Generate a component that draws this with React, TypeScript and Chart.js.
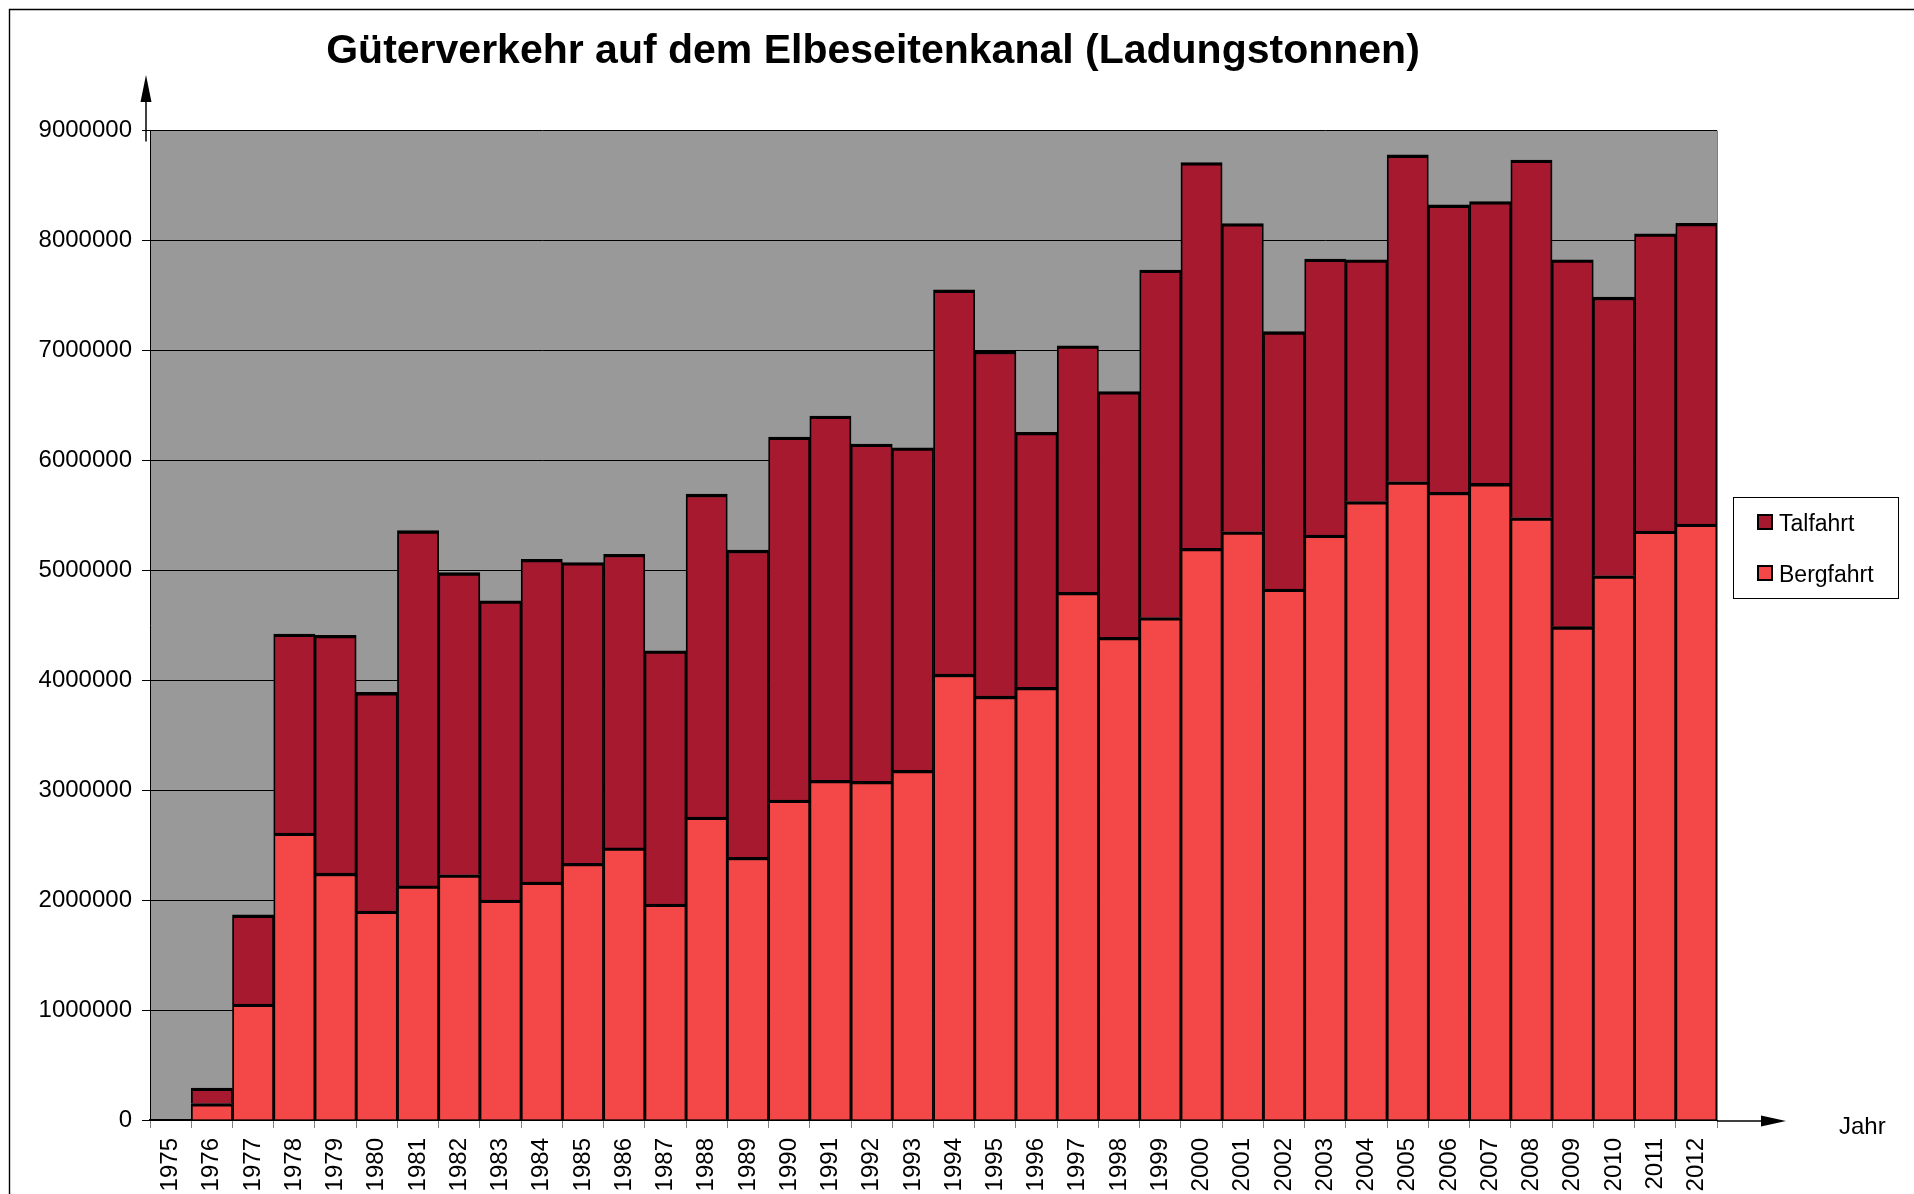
import React, { useEffect, useRef } from 'react';
import { Chart, registerables } from 'chart.js';

Chart.register(...registerables);

const years = [
  '1975', '1976', '1977', '1978', '1979', '1980', '1981', '1982', '1983', '1984',
  '1985', '1986', '1987', '1988', '1989', '1990', '1991', '1992', '1993', '1994',
  '1995', '1996', '1997', '1998', '1999', '2000', '2001', '2002', '2003', '2004',
  '2005', '2006', '2007', '2008', '2009', '2010', '2011', '2012',
];

const bergfahrt = [
  0, 150000, 1055000, 2610000, 2245000, 1900000, 2130000, 2230000, 2000000, 2165000,
  2335000, 2475000, 1965000, 2755000, 2390000, 2910000, 3090000, 3080000, 3180000, 4055000,
  3855000, 3935000, 4800000, 4390000, 4570000, 5200000, 5350000, 4830000, 5320000, 5625000,
  5805000, 5710000, 5790000, 5478000, 4487000, 4950000, 5357000, 5420000,
];

const talfahrt = [
  0, 140000, 810000, 1810000, 2163000, 1989000, 3230000, 2748000, 2722000, 2935000,
  2735000, 2671000, 2303000, 2937000, 2793000, 3302000, 3312000, 3068000, 2934000, 3495000,
  3138000, 2320000, 2241000, 2235000, 3160000, 3509000, 2803000, 2340000, 2511000, 2199000,
  2973000, 2613000, 2563000, 3253000, 3336000, 2534000, 2703000, 2736000,
];

const seriesLabels = ['Bergfahrt', 'Talfahrt'];
const seriesColors = ['#F44747', '#A6192F'];
const titleText = 'Güterverkehr auf dem Elbeseitenkanal (Ladungstonnen)';
const xAxisLabel = 'Jahr';
const yMin = 0;
const yMax = 9000000;
const yStep = 1000000;

const FONT = '"Liberation Sans", Arial, Helvetica, sans-serif';

const backgroundPlugin = {
  id: 'bgPlugin',
  beforeDraw(chart: any) {
    const { ctx, chartArea, width, height } = chart;
    ctx.save();
    ctx.fillStyle = '#ffffff';
    ctx.fillRect(0, 0, width, height);
    ctx.fillStyle = '#999999';
    ctx.fillRect(chartArea.left, chartArea.top, chartArea.right - chartArea.left, chartArea.bottom - chartArea.top);
    ctx.restore();
  },
};

const decorPlugin = {
  id: 'decorPlugin',
  afterDraw(chart: any) {
    const { ctx, chartArea, width, height } = chart;
    ctx.save();

    // outer frame (only top and left visible)
    ctx.strokeStyle = '#000';
    ctx.lineWidth = 1.4;
    ctx.beginPath();
    ctx.moveTo(9.5, height + 10);
    ctx.lineTo(9.5, 9.5);
    ctx.lineTo(width + 10, 9.5);
    ctx.stroke();

    // right border of plot area
    ctx.strokeStyle = '#808080';
    ctx.lineWidth = 1;
    ctx.beginPath();
    ctx.moveTo(chartArea.right + 0.5, chartArea.top);
    ctx.lineTo(chartArea.right + 0.5, chartArea.bottom);
    ctx.stroke();

    // y axis arrow
    const ax = chartArea.left - 4;
    ctx.strokeStyle = '#000';
    ctx.fillStyle = '#000';
    ctx.lineWidth = 1.5;
    ctx.beginPath();
    ctx.moveTo(ax, chartArea.top + 11);
    ctx.lineTo(ax, 100);
    ctx.stroke();
    ctx.beginPath();
    ctx.moveTo(ax, 75);
    ctx.lineTo(ax - 5.5, 102);
    ctx.lineTo(ax + 5.5, 102);
    ctx.closePath();
    ctx.fill();

    // x axis arrow
    const ay = chartArea.bottom + 1;
    ctx.beginPath();
    ctx.moveTo(chartArea.right, ay);
    ctx.lineTo(1764, ay);
    ctx.stroke();
    ctx.beginPath();
    ctx.moveTo(1786, ay);
    ctx.lineTo(1761, ay - 5.5);
    ctx.lineTo(1761, ay + 5.5);
    ctx.closePath();
    ctx.fill();

    // axis label
    ctx.font = `24px ${FONT}`;
    ctx.textAlign = 'left';
    ctx.textBaseline = 'alphabetic';
    ctx.fillText(xAxisLabel, 1839, 1134);

    // title
    ctx.font = `bold 41px ${FONT}`;
    ctx.textAlign = 'center';
    ctx.fillText(titleText, 873, 63);

    // legend
    const items = chart.data.datasets
      .map((d: any) => ({ label: d.label, color: d.backgroundColor }))
      .reverse();
    ctx.lineWidth = 1;
    ctx.strokeStyle = '#000';
    ctx.strokeRect(1733.5, 497.5, 165, 101);
    ctx.font = `23px ${FONT}`;
    ctx.textAlign = 'left';
    items.forEach((it: any, i: number) => {
      const y = 514 + i * 51;
      ctx.fillStyle = it.color;
      ctx.fillRect(1757, y, 16, 16);
      ctx.lineWidth = 2;
      ctx.strokeStyle = '#000';
      ctx.strokeRect(1758, y + 1, 14, 14);
      ctx.fillStyle = '#000';
      ctx.fillText(it.label, 1779, y + 17);
    });

    ctx.restore();
  },
};

export default function App() {
  const canvasRef = useRef<HTMLCanvasElement | null>(null);

  useEffect(() => {
    if (!canvasRef.current) return;
    const tickFont = { family: FONT, size: 24 };
    const barBorder = { top: 3.3, left: 1.8, right: 1.8, bottom: 0 };
    const chart = new Chart(canvasRef.current, {
      type: 'bar',
      data: {
        labels: years,
        datasets: [
          {
            label: seriesLabels[0],
            data: bergfahrt,
            backgroundColor: seriesColors[0],
            borderColor: '#000',
            borderWidth: barBorder,
            borderSkipped: 'start',
            categoryPercentage: 1,
            barPercentage: 1,
          },
          {
            label: seriesLabels[1],
            data: talfahrt,
            backgroundColor: seriesColors[1],
            borderColor: '#000',
            borderWidth: barBorder,
            borderSkipped: 'start',
            categoryPercentage: 1,
            barPercentage: 1,
          },
        ],
      },
      options: {
        responsive: false,
        maintainAspectRatio: false,
        animation: false,
        events: [],
        layout: { padding: { top: 130.5, left: 0, right: 197, bottom: 0 } },
        plugins: {
          legend: { display: false },
          title: { display: false },
          tooltip: { enabled: false },
        },
        scales: {
          x: {
            stacked: true,
            grid: {
              offset: true,
              drawOnChartArea: false,
              drawTicks: true,
              tickLength: 8,
              color: '#808080',
              lineWidth: 1,
            },
            border: { color: '#000', width: 2 },
            ticks: {
              autoSkip: false,
              minRotation: 90,
              maxRotation: 90,
              padding: 10,
              color: '#000',
              font: tickFont,
            },
            afterFit: (scale: any) => {
              scale.height = 74;
            },
          },
          y: {
            stacked: true,
            min: yMin,
            max: yMax,
            ticks: {
              stepSize: yStep,
              padding: 10,
              color: '#000',
              font: tickFont,
              callback: (v: any) => String(v),
            },
            grid: {
              color: '#000',
              lineWidth: 1,
              tickLength: 8,
              tickColor: '#000',
            },
            border: { color: '#000', width: 1 },
            afterFit: (scale: any) => {
              scale.width = 150;
            },
          },
        },
      } as any,
      plugins: [backgroundPlugin, decorPlugin],
    });
    return () => chart.destroy();
  }, []);

  return (
    <div style={{ position: 'fixed', left: 0, top: 0, width: 1914, height: 1194, background: '#fff' }}>
      <canvas ref={canvasRef} width={1914} height={1194} style={{ display: 'block', width: 1914, height: 1194 }} />
    </div>
  );
}
